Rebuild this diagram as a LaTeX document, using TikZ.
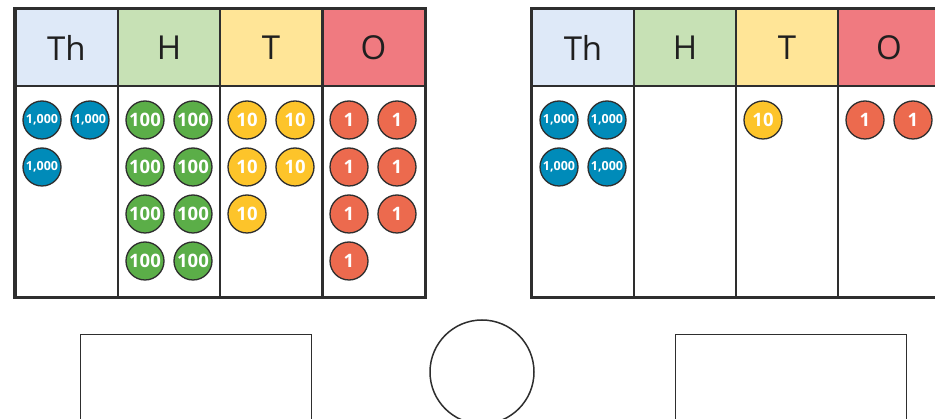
\documentclass[tikz,border=0pt]{standalone}
\usepackage{fontspec}
\setmainfont{Open Sans}
\definecolor{thc}{HTML}{DEE9F8}
\definecolor{hc}{HTML}{C7E1B5}
\definecolor{tc}{HTML}{FFE597}
\definecolor{oc}{HTML}{F07A80}
\definecolor{cblue}{HTML}{008BB9}
\definecolor{cgreen}{HTML}{5BAE48}
\definecolor{cyellow}{HTML}{FDC42A}
\definecolor{cred}{HTML}{EC6A4E}
\definecolor{edge}{HTML}{2E2E2E}
\tikzset{
  hdr/.style={draw=edge,line width=2pt,minimum width=102pt,minimum height=77pt,inner sep=0pt,font=\fontsize{33}{33}\selectfont,text=black!88},
  cell/.style={draw=edge,line width=2pt,fill=white,minimum width=102pt,minimum height=211pt,inner sep=0pt},
  ctr/.style={circle,draw=edge,line width=1.3pt,minimum size=38pt,inner sep=0pt,text=white,font=\bfseries\fontsize{18.5}{18.5}\selectfont},
  thou/.style={ctr,fill=cblue,font=\bfseries\fontsize{12.5}{12.5}\selectfont},
  hund/.style={ctr,fill=cgreen},
  tens/.style={ctr,fill=cyellow},
  ones/.style={ctr,fill=cred},
  box/.style={draw=edge,line width=1.5pt,minimum width=231pt,minimum height=85pt,inner sep=0pt}
}
\begin{document}
\begin{tikzpicture}[x=1pt,y=-1pt]
\useasboundingbox (0,0) rectangle (935,419);
\clip (0,0) rectangle (935,419);
% left table
\node[hdr,fill=thc] (lth) at (66.5,47.5) {Th};
\node[hdr,fill=hc] (lh) at (169,47.5) {H};
\node[hdr,fill=tc] (lt) at (271,47.5) {T};
\node[hdr,fill=oc] (lo) at (373.5,47.5) {O};
\node[cell] (lthc) at (66.5,191.5) {};
\node[cell] (lhc) at (169,191.5) {};
\node[cell] (ltc) at (271,191.5) {};
\node[cell] (loc) at (373.5,191.5) {};
\draw[edge,line width=2.8pt] (lth.north west) rectangle (loc.south east);
% right table
\node[hdr,fill=thc] (rth) at (583,47.5) {Th};
\node[hdr,fill=hc] (rh) at (685,47.5) {H};
\node[hdr,fill=tc] (rt) at (787,47.5) {T};
\node[hdr,fill=oc] (ro) at (889,47.5) {O};
\node[cell] (rthc) at (583,191.5) {};
\node[cell] (rhc) at (685,191.5) {};
\node[cell] (rtc) at (787,191.5) {};
\node[cell] (roc) at (889,191.5) {};
\draw[edge,line width=2.8pt] (rth.north west) rectangle (roc.south east);
% left counters
\node[thou] (a1) at (42,120) {1,000};
\node[thou] (a2) at (90,120) {1,000};
\node[thou] (a3) at (42,167) {1,000};
\foreach \y [count=\i] in {120,167,214,261}{
  \node[hund] (h\i a) at (145,\y) {100};
  \node[hund] (h\i b) at (193,\y) {100};
}
\node[tens] (t1) at (247,120) {10};
\node[tens] (t2) at (295,120) {10};
\node[tens] (t3) at (247,167) {10};
\node[tens] (t4) at (295,167) {10};
\node[tens] (t5) at (247,214) {10};
\foreach \y [count=\i] in {120,167,214}{
  \node[ones] (o\i a) at (349,\y) {1};
  \node[ones] (o\i b) at (397,\y) {1};
}
\node[ones] (o4) at (349,261) {1};
% right counters
\node[thou] (b1) at (559,120) {1,000};
\node[thou] (b2) at (607,120) {1,000};
\node[thou] (b3) at (559,167) {1,000};
\node[thou] (b4) at (607,167) {1,000};
\node[tens] (rt1) at (763,120) {10};
\node[ones] (ro1) at (865,120) {1};
\node[ones] (ro2) at (913,120) {1};
% answer boxes
\node[box] (ans1) at (196,377) {};
\node[circle,draw=edge,line width=1.5pt,minimum size=104pt,inner sep=0pt] (cmp) at (482,372) {};
\node[box] (ans2) at (791,377) {};
\end{tikzpicture}
\end{document}
